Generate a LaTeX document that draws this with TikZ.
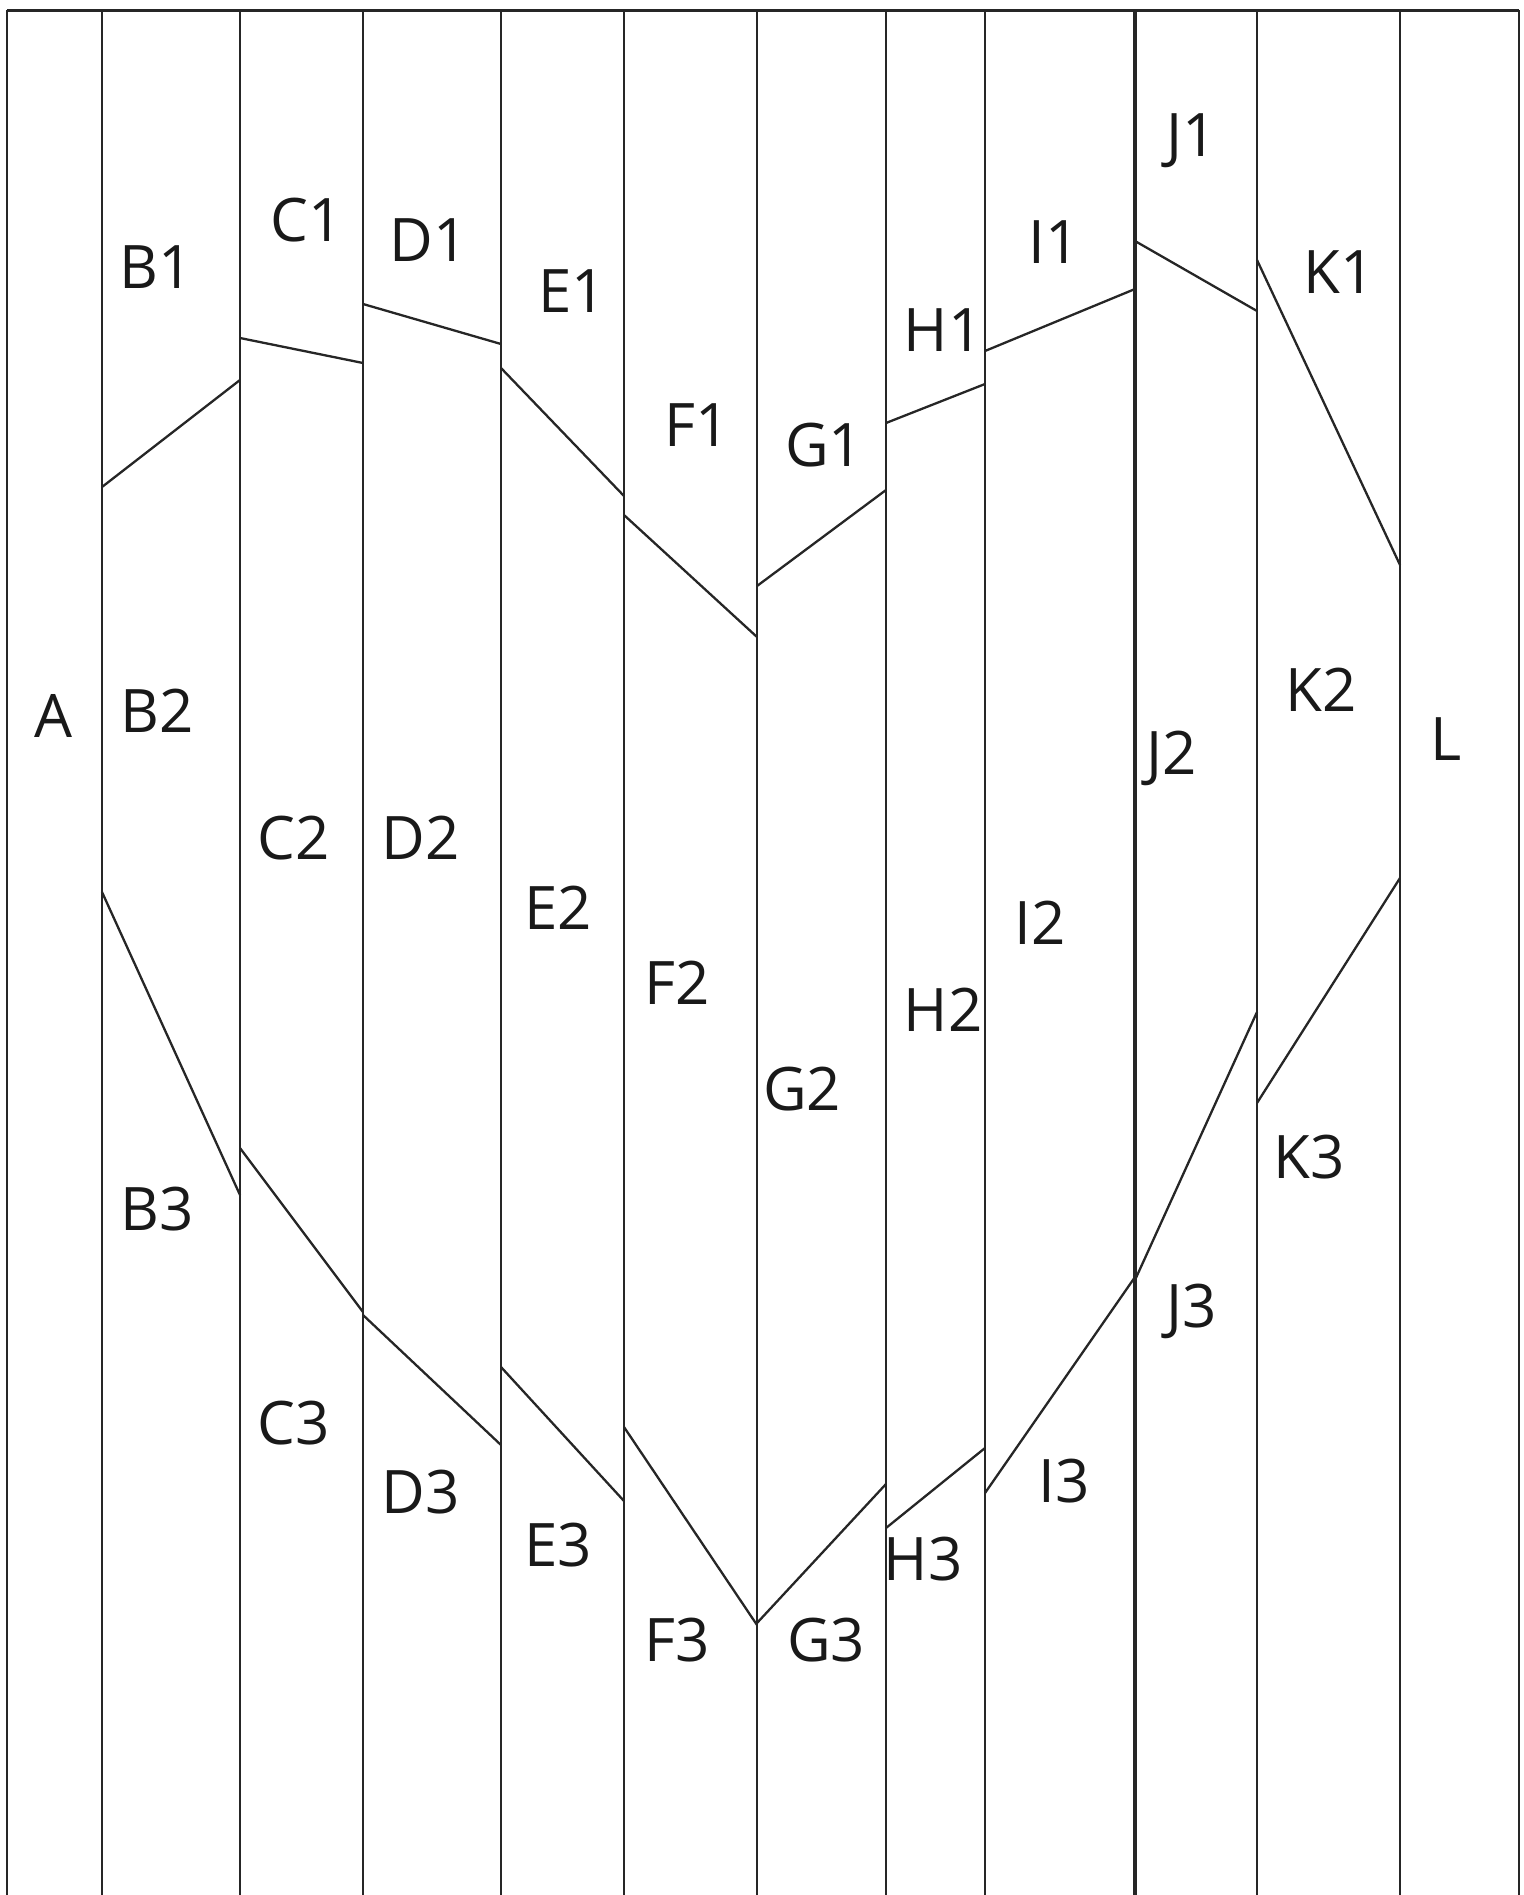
\documentclass[tikz,border=0pt]{standalone}
\usepackage{fontspec}
\setmainfont{Open Sans}
\begin{document}
\begin{tikzpicture}[x=1pt,y=-1pt,
  colline/.style={line width=2.3pt, draw=black!85},
  thickline/.style={line width=4.2pt, draw=black!85},
  heartline/.style={line width=2.3pt, draw=black!85},
  lab/.style={font=\fontsize{60}{68}\selectfont, inner sep=0pt, text=black!90}]
\useasboundingbox (0,0) rectangle (1523,1895);
% frame and columns
\draw[line width=3pt, draw=black!85] (7,10) -- (1519,10);
\foreach \x in {7,102,240,363,501,624,757,886,985,1257,1400,1519}
  \draw[colline] (\x,10) -- (\x,1895);
\draw[thickline] (1135,10) -- (1135,1895);
% heart outline (top segments)
\draw[heartline] (102,487) -- (240,380);
\draw[heartline] (240,338) -- (363,363);
\draw[heartline] (363,304) -- (501,344);
\draw[heartline] (501,368) -- (624,496);
\draw[heartline] (624,515) -- (757,637);
\draw[heartline] (757,586) -- (886,490);
\draw[heartline] (886,423) -- (985,384);
\draw[heartline] (985,351) -- (1135,289);
\draw[heartline] (1135,241) -- (1257,311);
\draw[heartline] (1257,260) -- (1400,565);
% heart outline (bottom segments)
\draw[heartline] (102,892) -- (240,1195);
\draw[heartline] (240,1148) -- (363,1312);
\draw[heartline] (363,1315) -- (501,1445);
\draw[heartline] (501,1367) -- (624,1501);
\draw[heartline] (624,1427) -- (757,1625);
\draw[heartline] (757,1623) -- (886,1484);
\draw[heartline] (886,1528) -- (985,1448);
\draw[heartline] (985,1493) -- (1135,1277);
\draw[heartline] (1135,1280) -- (1257,1012);
\draw[heartline] (1257,1103) -- (1400,878);
% labels
\node[lab] (A) at (53,716) {A};
\node[lab] (B1) at (156,267) {B1};
\node[lab] (B2) at (157,711) {B2};
\node[lab] (B3) at (157,1209) {B3};
\node[lab] (C1) at (307,220) {C1};
\node[lab] (C2) at (294,838) {C2};
\node[lab] (C3) at (294,1423) {C3};
\node[lab] (D1) at (429,240) {D1};
\node[lab] (D2) at (421,838) {D2};
\node[lab] (D3) at (421,1492) {D3};
\node[lab] (E1) at (572,291) {E1};
\node[lab] (E2) at (558,908) {E2};
\node[lab] (E3) at (558,1545) {E3};
\node[lab] (F1) at (697,425) {F1};
\node[lab] (F2) at (677,983) {F2};
\node[lab] (F3) at (677,1640) {F3};
\node[lab] (G1) at (824,445) {G1};
\node[lab] (G2) at (802,1089) {G2};
\node[lab] (G3) at (826,1640) {G3};
\node[lab] (H1) at (943,330) {H1};
\node[lab] (H2) at (943,1010) {H2};
\node[lab] (H3) at (923,1559) {H3};
\node[lab] (I1) at (1054,242) {I1};
\node[lab] (I2) at (1040,923) {I2};
\node[lab] (I3) at (1064,1481) {I3};
\node[lab] (J1) at (1192,141) {J1};
\node[lab] (J2) at (1172,758) {J2};
\node[lab] (J3) at (1192,1311) {J3};
\node[lab] (K1) at (1339,272) {K1};
\node[lab] (K2) at (1321,690) {K2};
\node[lab] (K3) at (1309,1157) {K3};
\node[lab] (L) at (1446,739) {L};
\end{tikzpicture}
\end{document}
